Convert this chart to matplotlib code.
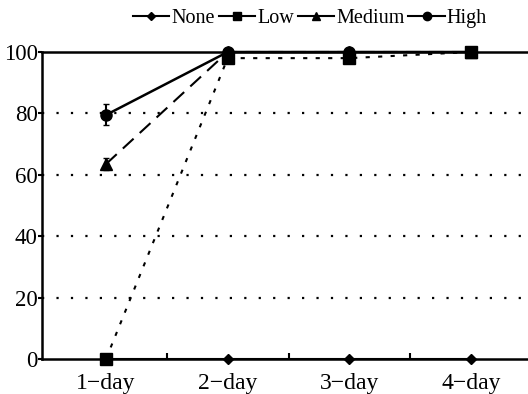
import matplotlib
matplotlib.use("Agg")
import matplotlib.pyplot as plt
from matplotlib.ticker import FixedLocator
from matplotlib.lines import Line2D

categories = ["1\u2212day", "2\u2212day", "3\u2212day", "4\u2212day"]
none_vals = [0, 0, 0, 0]
low_vals = [0, 98, 98, 100]
medium_vals = [63.5, 100, 100, 100]
medium_err = [2, 0, 0, 0]
high_vals = [79.5, 100, 100, 100]
high_err = [3.4, 0, 0, 0]
yticks = [0, 20, 40, 60, 80, 100]

plt.rcParams['font.family'] = ['Liberation Serif', 'DejaVu Serif']

fig = plt.figure(figsize=(5.28, 3.94), dpi=100)
ax = fig.add_axes([42/528, 1-359/394, 1-42/528, (359-52)/394])

x = [1, 2, 3, 4]
ax.set_xlim(0.474, 4.468)
ax.set_ylim(0, 100)

for yv in [20, 40, 60, 80]:
    ax.axhline(yv, color='black', linestyle=(0, (1, 5.5)), linewidth=1.6, zorder=1)
ax.axhline(100, color='black', linewidth=1.8, zorder=1, clip_on=False)

ax.plot(x, none_vals, color='black', linestyle='-', linewidth=1.5,
        marker='D', markersize=5, clip_on=False, zorder=3)
ax.plot(x, low_vals, color='black', linestyle=(0, (2, 4)), linewidth=1.5,
        marker='s', markersize=8, clip_on=False, zorder=4)
ax.errorbar(x, medium_vals, yerr=medium_err, color='black', linestyle=(0, (7, 4)),
            linewidth=1.5, marker='^', markersize=8, capsize=2.5, elinewidth=1.5,
            clip_on=False, zorder=4)
ax.errorbar(x, high_vals, yerr=high_err, color='black', linestyle='-',
            linewidth=1.8, marker='o', markersize=8, capsize=2.5, elinewidth=1.5,
            clip_on=False, zorder=5)

for s in ['top', 'right']:
    ax.spines[s].set_visible(False)
for s in ['left', 'bottom']:
    ax.spines[s].set_linewidth(1.8)

ax.set_xticks(x)
ax.set_xticklabels(categories, fontsize=17)
ax.xaxis.set_minor_locator(FixedLocator([1.5, 2.5, 3.5]))
ax.tick_params(axis='x', which='major', length=0, pad=10)
ax.tick_params(axis='x', which='minor', direction='in', length=4, width=1.5)
ax.set_yticks(yticks)
ax.set_yticklabels([str(v) for v in yticks], fontsize=16.5)
ax.tick_params(axis='y', direction='out', length=3, width=1.5, pad=0)

handles = [
    Line2D([], [], color='black', linewidth=1.5, marker='D', markersize=4),
    Line2D([], [], color='black', linewidth=1.5, marker='s', markersize=6),
    Line2D([], [], color='black', linewidth=1.5, marker='^', markersize=6),
    Line2D([], [], color='black', linewidth=1.5, marker='o', markersize=6),
]
fig.legend(handles, ["None", "Low", "Medium", "High"], loc='center',
           bbox_to_anchor=(310/528, 1-18/394), ncol=4, frameon=False,
           fontsize=14.5, handlelength=1.8, handletextpad=0.1, columnspacing=0.2)

fig.savefig("out.png", dpi=100)
